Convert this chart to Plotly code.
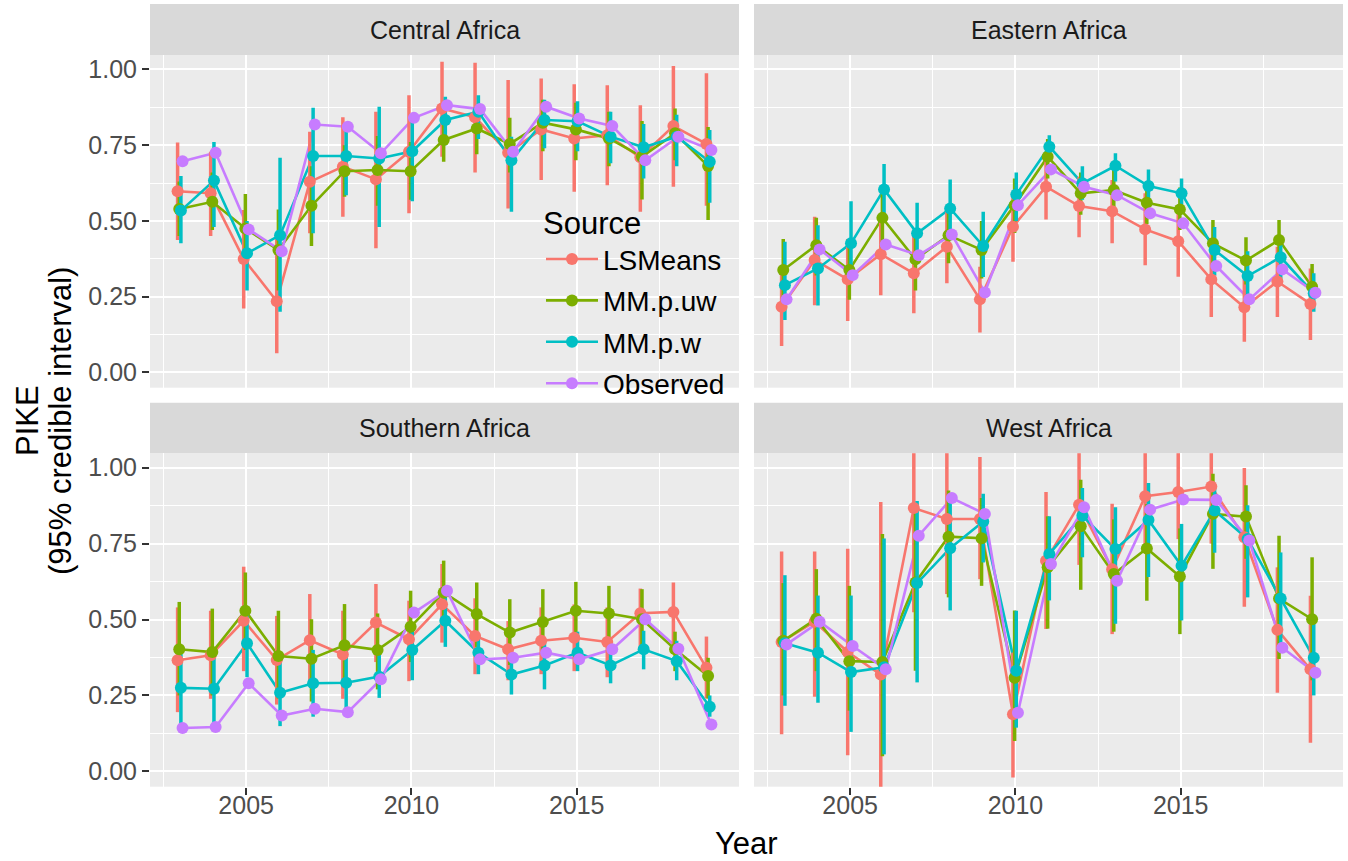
import plotly.graph_objects as go

years = list(range(2003, 2020))
regions = ["Central Africa", "Eastern Africa", "Southern Africa", "West Africa"]
sources = ["LSMeans", "MM.p.uw", "MM.p.w", "Observed"]
colors = ["#F8766D", "#7CAE00", "#00BFC4", "#C77CFF"]
dodge = [-0.075, -0.025, 0.025, 0.075]

# ---- Central Africa ----
central_lsmeans = [0.598, 0.591, 0.374, 0.235, 0.629, 0.679, 0.637, 0.728, 0.871, 0.842, 0.725, 0.802, 0.772, 0.783, 0.710, 0.813, 0.754]
central_lsmeans_lo = [0.437, 0.450, 0.211, 0.063, 0.459, 0.514, 0.410, 0.525, 0.712, 0.660, 0.541, 0.635, 0.596, 0.618, 0.530, 0.613, 0.550]
central_lsmeans_hi = [0.759, 0.728, 0.536, 0.440, 0.794, 0.842, 0.860, 0.915, 1.025, 1.022, 0.965, 0.970, 0.951, 0.948, 0.882, 1.011, 0.987]
central_uw = [0.539, 0.563, 0.475, 0.404, 0.550, 0.664, 0.668, 0.664, 0.767, 0.805, 0.754, 0.824, 0.802, 0.772, 0.712, 0.789, 0.681]
central_uw_lo = [0.450, 0.470, 0.360, 0.270, 0.417, 0.580, 0.550, 0.570, 0.695, 0.720, 0.660, 0.730, 0.700, 0.680, 0.571, 0.700, 0.503]
central_uw_hi = [0.630, 0.660, 0.589, 0.538, 0.680, 0.750, 0.780, 0.760, 0.840, 0.880, 0.840, 0.900, 0.890, 0.860, 0.830, 0.871, 0.810]
central_w = [0.534, 0.633, 0.393, 0.453, 0.714, 0.714, 0.706, 0.730, 0.833, 0.860, 0.700, 0.833, 0.829, 0.778, 0.743, 0.778, 0.695]
central_w_lo = [0.426, 0.480, 0.270, 0.200, 0.459, 0.585, 0.480, 0.565, 0.750, 0.770, 0.530, 0.740, 0.730, 0.690, 0.640, 0.680, 0.560]
central_w_hi = [0.648, 0.760, 0.500, 0.708, 0.873, 0.800, 0.877, 0.846, 0.910, 0.915, 0.778, 0.900, 0.895, 0.860, 0.820, 0.850, 0.800]
central_obs = [0.697, 0.725, 0.472, 0.400, 0.818, 0.811, 0.723, 0.840, 0.882, 0.869, 0.728, 0.877, 0.838, 0.813, 0.700, 0.778, 0.734]

# ---- Eastern Africa ----
eastern_lsmeans = [0.217, 0.371, 0.307, 0.390, 0.327, 0.415, 0.241, 0.481, 0.613, 0.549, 0.532, 0.472, 0.433, 0.307, 0.215, 0.300, 0.226]
eastern_lsmeans_lo = [0.087, 0.222, 0.170, 0.255, 0.195, 0.294, 0.132, 0.365, 0.505, 0.446, 0.426, 0.354, 0.316, 0.183, 0.101, 0.183, 0.107]
eastern_lsmeans_hi = [0.349, 0.514, 0.440, 0.525, 0.459, 0.536, 0.349, 0.591, 0.712, 0.646, 0.635, 0.591, 0.547, 0.420, 0.330, 0.415, 0.343]
eastern_uw = [0.338, 0.420, 0.338, 0.510, 0.373, 0.453, 0.404, 0.552, 0.712, 0.591, 0.602, 0.560, 0.538, 0.426, 0.369, 0.437, 0.283]
eastern_uw_lo = [0.240, 0.320, 0.240, 0.410, 0.270, 0.360, 0.310, 0.460, 0.640, 0.520, 0.530, 0.490, 0.470, 0.350, 0.290, 0.370, 0.210]
eastern_uw_hi = [0.440, 0.510, 0.440, 0.590, 0.470, 0.540, 0.500, 0.640, 0.770, 0.660, 0.670, 0.630, 0.610, 0.503, 0.446, 0.503, 0.358]
eastern_w = [0.288, 0.343, 0.426, 0.604, 0.459, 0.541, 0.417, 0.587, 0.745, 0.624, 0.682, 0.615, 0.591, 0.404, 0.318, 0.380, 0.261]
eastern_w_lo = [0.173, 0.221, 0.300, 0.520, 0.360, 0.450, 0.315, 0.500, 0.700, 0.570, 0.630, 0.550, 0.540, 0.320, 0.240, 0.300, 0.200]
eastern_w_hi = [0.431, 0.486, 0.565, 0.688, 0.560, 0.637, 0.530, 0.660, 0.783, 0.680, 0.723, 0.670, 0.640, 0.480, 0.400, 0.450, 0.327]
eastern_obs = [0.241, 0.406, 0.321, 0.422, 0.387, 0.455, 0.264, 0.552, 0.670, 0.613, 0.585, 0.525, 0.492, 0.351, 0.241, 0.340, 0.263]

# ---- Southern Africa ----
southern_lsmeans = [0.366, 0.382, 0.496, 0.367, 0.432, 0.385, 0.490, 0.435, 0.550, 0.446, 0.402, 0.430, 0.440, 0.426, 0.521, 0.525, 0.341]
southern_lsmeans_lo = [0.195, 0.239, 0.330, 0.220, 0.281, 0.239, 0.360, 0.297, 0.424, 0.320, 0.300, 0.320, 0.330, 0.310, 0.410, 0.410, 0.240]
southern_lsmeans_hi = [0.540, 0.529, 0.674, 0.512, 0.584, 0.529, 0.617, 0.562, 0.683, 0.570, 0.495, 0.540, 0.550, 0.540, 0.602, 0.622, 0.444]
southern_uw = [0.402, 0.393, 0.529, 0.380, 0.371, 0.415, 0.400, 0.476, 0.589, 0.518, 0.457, 0.492, 0.529, 0.520, 0.501, 0.402, 0.314]
southern_uw_lo = [0.250, 0.250, 0.400, 0.240, 0.230, 0.280, 0.270, 0.360, 0.480, 0.410, 0.350, 0.380, 0.430, 0.420, 0.400, 0.330, 0.240]
southern_uw_hi = [0.558, 0.536, 0.655, 0.529, 0.501, 0.551, 0.520, 0.595, 0.694, 0.622, 0.567, 0.600, 0.624, 0.611, 0.600, 0.460, 0.374]
southern_w = [0.275, 0.272, 0.422, 0.259, 0.290, 0.292, 0.312, 0.400, 0.496, 0.391, 0.319, 0.349, 0.391, 0.349, 0.402, 0.363, 0.213]
southern_w_lo = [0.143, 0.146, 0.310, 0.149, 0.180, 0.190, 0.242, 0.300, 0.410, 0.320, 0.253, 0.270, 0.330, 0.290, 0.336, 0.300, 0.180]
southern_w_hi = [0.390, 0.390, 0.530, 0.358, 0.400, 0.400, 0.390, 0.490, 0.580, 0.450, 0.385, 0.424, 0.460, 0.420, 0.463, 0.430, 0.250]
southern_obs = [0.143, 0.146, 0.290, 0.184, 0.206, 0.195, 0.303, 0.523, 0.595, 0.369, 0.374, 0.391, 0.369, 0.402, 0.501, 0.404, 0.154]

# ---- West Africa ----
west_lsmeans = [0.426, 0.493, 0.393, 0.319, 0.867, 0.831, 0.831, 0.188, 0.694, 0.878, 0.666, 0.906, 0.920, 0.938, 0.771, 0.466, 0.336]
west_lsmeans_lo = [0.122, 0.246, 0.053, -0.100, 0.524, 0.584, 0.633, -0.020, 0.469, 0.680, 0.452, 0.732, 0.765, 0.750, 0.542, 0.259, 0.094]
west_lsmeans_hi = [0.724, 0.724, 0.733, 0.887, 1.120, 1.100, 1.035, 0.391, 0.920, 1.080, 0.881, 1.100, 1.100, 1.100, 0.999, 0.672, 0.578]
west_uw = [0.430, 0.503, 0.363, 0.360, 0.622, 0.773, 0.768, 0.308, 0.672, 0.807, 0.650, 0.734, 0.642, 0.848, 0.839, 0.569, 0.501]
west_uw_lo = [0.250, 0.330, 0.200, 0.050, 0.331, 0.573, 0.611, 0.100, 0.470, 0.598, 0.460, 0.562, 0.452, 0.667, 0.700, 0.370, 0.300]
west_uw_hi = [0.620, 0.666, 0.611, 0.782, 0.850, 0.925, 0.900, 0.530, 0.840, 0.960, 0.830, 0.880, 0.800, 0.980, 0.942, 0.776, 0.705]
west_w = [0.422, 0.391, 0.327, 0.343, 0.620, 0.735, 0.823, 0.331, 0.716, 0.842, 0.732, 0.828, 0.677, 0.859, 0.765, 0.569, 0.374]
west_w_lo = [0.216, 0.226, 0.130, 0.056, 0.293, 0.530, 0.688, 0.144, 0.563, 0.705, 0.486, 0.640, 0.497, 0.720, 0.573, 0.400, 0.250]
west_w_hi = [0.646, 0.579, 0.579, 0.767, 0.890, 0.900, 0.914, 0.529, 0.840, 0.933, 0.870, 0.950, 0.815, 0.944, 0.876, 0.721, 0.500]
west_obs = [0.418, 0.493, 0.413, 0.336, 0.776, 0.900, 0.848, 0.193, 0.683, 0.870, 0.628, 0.862, 0.895, 0.894, 0.760, 0.407, 0.325]

panels = {
    "Central Africa": [
        (central_lsmeans, central_lsmeans_lo, central_lsmeans_hi),
        (central_uw, central_uw_lo, central_uw_hi),
        (central_w, central_w_lo, central_w_hi),
        (central_obs, None, None),
    ],
    "Eastern Africa": [
        (eastern_lsmeans, eastern_lsmeans_lo, eastern_lsmeans_hi),
        (eastern_uw, eastern_uw_lo, eastern_uw_hi),
        (eastern_w, eastern_w_lo, eastern_w_hi),
        (eastern_obs, None, None),
    ],
    "Southern Africa": [
        (southern_lsmeans, southern_lsmeans_lo, southern_lsmeans_hi),
        (southern_uw, southern_uw_lo, southern_uw_hi),
        (southern_w, southern_w_lo, southern_w_hi),
        (southern_obs, None, None),
    ],
    "West Africa": [
        (west_lsmeans, west_lsmeans_lo, west_lsmeans_hi),
        (west_uw, west_uw_lo, west_uw_hi),
        (west_w, west_w_lo, west_w_hi),
        (west_obs, None, None),
    ],
}

W, H = 1348, 861
FONT = "Liberation Sans, Arial, sans-serif"
LINE_W = 2.6
BAR_W = 3.5
PT_SIZE = 12

# panel rectangles in pixels: (left, right) per column, (top, bottom) per row
px_cols = [(150, 739), (754, 1343)]
px_rows = [(55, 387.7), (453.3, 786.7)]
strip_rows = [(4, 55), (402.7, 453.3)]

def fx(p):
    return p / W

def fy(p):
    return 1 - p / H

fig = go.Figure()

axis_ids = ["", "2", "3", "4"]
for i, region in enumerate(regions):
    ax = axis_ids[i]
    xref, yref = "x" + ax, "y" + ax
    series = panels[region]
    # connecting lines
    for s, (mean, lo, hi) in enumerate(series):
        xs = [yr + dodge[s] for yr in years]
        fig.add_trace(go.Scatter(
            x=xs, y=mean, mode="lines", xaxis=xref, yaxis=yref,
            line=dict(color=colors[s], width=LINE_W),
            showlegend=False, hoverinfo="skip"))
    # credible-interval ranges
    for s, (mean, lo, hi) in enumerate(series):
        if lo is None:
            continue
        xs = [yr + dodge[s] for yr in years]
        fig.add_trace(go.Scatter(
            x=xs, y=mean, mode="markers", xaxis=xref, yaxis=yref,
            marker=dict(color=colors[s], size=1, opacity=0),
            error_y=dict(type="data", symmetric=False,
                         array=[h - m for h, m in zip(hi, mean)],
                         arrayminus=[m - l for m, l in zip(mean, lo)],
                         width=0, thickness=BAR_W, color=colors[s]),
            showlegend=False, hoverinfo="skip"))
    # points
    for s, (mean, lo, hi) in enumerate(series):
        xs = [yr + dodge[s] for yr in years]
        fig.add_trace(go.Scatter(
            x=xs, y=mean, mode="markers", xaxis=xref, yaxis=yref,
            marker=dict(color=colors[s], size=PT_SIZE),
            showlegend=False, hoverinfo="skip"))

# legend keys
for s, name in enumerate(sources):
    fig.add_trace(go.Scatter(
        x=[None], y=[None], mode="lines+markers", name=name,
        legendgroup=name,
        line=dict(color=colors[s], width=LINE_W),
        marker=dict(color=colors[s], size=PT_SIZE),
        showlegend=True))

layout = dict(
    width=W, height=H, autosize=False,
    margin=dict(l=0, r=0, t=0, b=0),
    paper_bgcolor="white", plot_bgcolor="#EBEBEB",
    font=dict(family=FONT, color="#4D4D4D", size=25),
    showlegend=True,
    legend=dict(
        x=fx(541), y=fy(194), xanchor="left", yanchor="top",
        bgcolor="rgba(0,0,0,0)",
        title=dict(text="Source", font=dict(size=31, color="#000000")),
        font=dict(size=28, color="#000000"),
        tracegroupgap=2,
        itemwidth=52,
    ),
    shapes=[], annotations=[],
)

for i, region in enumerate(regions):
    r, c = divmod(i, 2)
    ax = axis_ids[i]
    left, right = px_cols[c]
    top, bottom = px_rows[r]
    xa = dict(
        domain=[fx(left), fx(right)], range=[2002.09, 2019.91],
        anchor="y" + ax, tick0=2005, dtick=5,
        showgrid=True, gridcolor="white", gridwidth=2.4, zeroline=False,
        showline=False,
        minor=dict(tick0=2002.5, dtick=5, showgrid=True, gridcolor="white", gridwidth=1.2, ticks=""),
        tickfont=dict(size=25, color="#4D4D4D", family=FONT),
    )
    if r == 1:
        xa.update(ticks="outside", ticklen=7, tickwidth=2, tickcolor="#333333",
                  showticklabels=True, ticklabelstandoff=-11)
    else:
        xa.update(ticks="", showticklabels=False)
    ya = dict(
        domain=[fy(bottom), fy(top)], range=[-0.0505, 1.0475],
        anchor="x" + ax, tick0=0, dtick=0.25, tickformat=".2f",
        showgrid=True, gridcolor="white", gridwidth=2.4, zeroline=False,
        showline=False,
        minor=dict(tick0=0.125, dtick=0.25, showgrid=True, gridcolor="white", gridwidth=1.2, ticks=""),
        tickfont=dict(size=25, color="#4D4D4D", family=FONT),
    )
    if c == 0:
        ya.update(ticks="outside", ticklen=7, tickwidth=2, tickcolor="#333333", showticklabels=True)
    else:
        ya.update(ticks="", showticklabels=False)
    layout["xaxis" + ax] = xa
    layout["yaxis" + ax] = ya

    # facet strip
    s_top, s_bot = strip_rows[r]
    layout["shapes"].append(dict(
        type="rect", xref="paper", yref="paper",
        x0=fx(left), x1=fx(right), y0=fy(s_bot), y1=fy(s_top),
        fillcolor="#D9D9D9", line=dict(width=0), layer="below"))
    layout["annotations"].append(dict(
        text=region, xref="paper", yref="paper",
        x=fx((left + right) / 2), y=fy((s_top + s_bot) / 2),
        xanchor="center", yanchor="middle", showarrow=False,
        font=dict(size=25, color="#1A1A1A", family=FONT)))

# axis titles
layout["annotations"].append(dict(
    text="Year", xref="paper", yref="paper",
    x=fx((150 + 1343) / 2), y=fy(843), xanchor="center", yanchor="middle",
    showarrow=False, font=dict(size=31, color="#000000", family=FONT)))
layout["annotations"].append(dict(
    text="PIKE", xref="paper", yref="paper", textangle=-90,
    x=fx(27), y=fy(421), xanchor="center", yanchor="middle",
    showarrow=False, font=dict(size=31, color="#000000", family=FONT)))
layout["annotations"].append(dict(
    text="(95% credible interval)", xref="paper", yref="paper", textangle=-90,
    x=fx(60), y=fy(421), xanchor="center", yanchor="middle",
    showarrow=False, font=dict(size=31, color="#000000", family=FONT)))

fig.update_layout(**layout)
fig.write_html("out.html")
